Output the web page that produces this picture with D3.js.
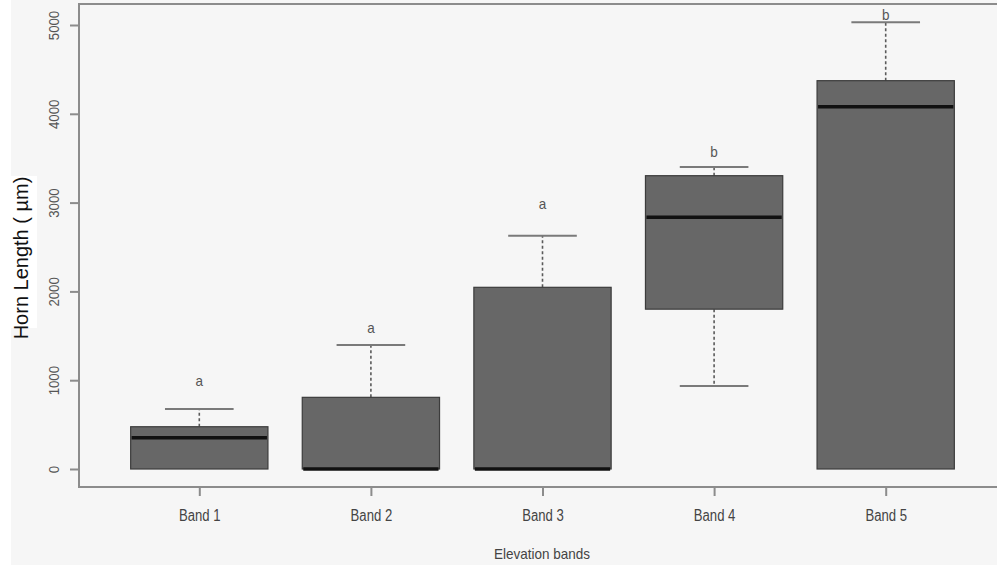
<!DOCTYPE html>
<html><head><meta charset="utf-8">
<script src="https://cdn.jsdelivr.net/npm/d3@7"></script>
<style>
html,body{margin:0;padding:0;background:#fff;}
svg{display:block;font-family:"Liberation Sans",Arial,sans-serif;}
</style></head>
<body>
<svg id="c" width="997" height="565"></svg>
<script>
const bands   = ["Band 1","Band 2","Band 3","Band 4","Band 5"];
const lowW    = [0, 0, 0, 935, 0];
const q1      = [0, 0, 0, 1800, 0];
const median  = [352, 0, 0, 2835, 4080];
const q3      = [476, 807, 2046, 3303, 4373];
const highW   = [676, 1395, 2627, 3402, 5030];
const letters = ["a","a","a","b","b"];
const letterY = [935, 1532, 2928, 3514, 5056];
const yTicks  = [0, 1000, 2000, 3000, 4000, 5000];

const svg = d3.select("#c");
svg.append("rect").attr("x",11).attr("y",0).attr("width",986).attr("height",565).attr("fill","#f6f6f6");

const x = d3.scalePoint().domain(bands).range([199.3, 885.7]);
const y = d3.scaleLinear().domain([0, 5000]).range([469, 25]);
const bw = x.step() * 0.8;

const frameL = 79, frameT = 4, frameB = 487, frameR = 1000;
const axisCol = "#8c8c8c";

svg.append("path")
  .attr("d", `M${frameR},${frameT}H${frameL}V${frameB}H${frameR}`)
  .attr("fill","none").attr("stroke",axisCol).attr("stroke-width",2);

const ya = svg.append("g").attr("transform",`translate(${frameL},0)`)
  .call(d3.axisLeft(y).tickValues(yTicks).tickSizeInner(9).tickSizeOuter(0).tickFormat(d3.format("d")));
ya.select(".domain").remove();
ya.selectAll(".tick line").attr("stroke",axisCol).attr("stroke-width",2);
ya.selectAll(".tick text")
  .attr("x",0).attr("y",-20).attr("dy",0)
  .attr("transform","rotate(-90) scale(0.88,1)")
  .style("text-anchor","middle")
  .attr("fill","#555").style("font-size","15px");

const xa = svg.append("g").attr("transform",`translate(0,${frameB})`)
  .call(d3.axisBottom(x).tickSizeInner(9).tickSizeOuter(0));
xa.select(".domain").remove();
xa.selectAll(".tick line").attr("stroke",axisCol).attr("stroke-width",2);
xa.selectAll(".tick text")
  .attr("y",34).attr("dy",0)
  .attr("transform","scale(0.82,1)")
  .attr("fill","#444").style("font-size","16px");

const g = svg.append("g");
bands.forEach((b,i)=>{
  const cx = x(b);
  if (highW[i] > q3[i]) {
    g.append("line").attr("x1",cx).attr("x2",cx).attr("y1",y(q3[i])).attr("y2",y(highW[i]))
      .attr("stroke","#5a5a5a").attr("stroke-width",1.6).attr("stroke-dasharray","3,2.5");
  }
  if (lowW[i] < q1[i]) {
    g.append("line").attr("x1",cx).attr("x2",cx).attr("y1",y(q1[i])).attr("y2",y(lowW[i]))
      .attr("stroke","#5a5a5a").attr("stroke-width",1.6).attr("stroke-dasharray","3,2.5");
    g.append("line").attr("x1",cx-bw/4).attr("x2",cx+bw/4).attr("y1",y(lowW[i])).attr("y2",y(lowW[i]))
      .attr("stroke","#7a7a7a").attr("stroke-width",2);
  }
  g.append("line").attr("x1",cx-bw/4).attr("x2",cx+bw/4).attr("y1",y(highW[i])).attr("y2",y(highW[i]))
    .attr("stroke","#7a7a7a").attr("stroke-width",2);
  g.append("rect").attr("x",cx-bw/2).attr("width",bw)
    .attr("y",y(q3[i])).attr("height",y(q1[i])-y(q3[i]))
    .attr("fill","#676767").attr("stroke","#3c3c3c").attr("stroke-width",1.2);
  g.append("line").attr("x1",cx-bw/2+1).attr("x2",cx+bw/2-1).attr("y1",y(median[i])).attr("y2",y(median[i]))
    .attr("stroke","#111").attr("stroke-width",3.5);
  g.append("text").attr("transform",`translate(${cx},${y(letterY[i])}) scale(0.9,1)`)
    .attr("text-anchor","middle").attr("fill","#555").style("font-size","15px").text(letters[i]);
});

svg.append("rect").attr("x",11).attr("y",176).attr("width",26).attr("height",152).attr("fill","#fff");
svg.append("text").attr("transform","translate(28,258) rotate(-90)")
  .attr("text-anchor","middle").attr("fill","#111").style("font-size","20px").text("Horn Length ( µm)");

svg.append("text").attr("transform","translate(542,559) scale(0.9,1)")
  .attr("text-anchor","middle").attr("fill","#444").style("font-size","15px").text("Elevation bands");
</script>
</body></html>
